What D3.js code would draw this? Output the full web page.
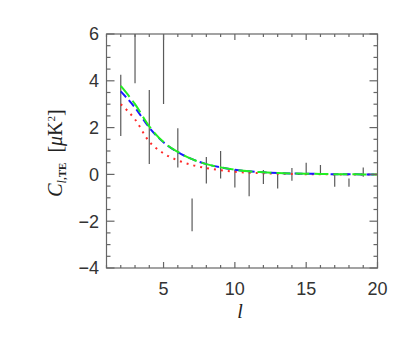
<!DOCTYPE html>
<html>
<head>
<meta charset="utf-8">
<script src="https://cdn.jsdelivr.net/npm/d3@7"></script>
<style>
  body { margin: 0; background: #fff; }
</style>
</head>
<body>
<div class="chart"></div>
<script>
// multipoles and measured TE band powers (error bar ends)
var ells = [2, 3, 4, 5, 6, 7, 8, 9, 10, 11, 12, 13, 14, 15, 16, 17, 18, 19];
var errTop = [4.26, 7.5, 3.61, 7.5, 1.97, -1.03, 0.74, 1.0, 0.21, 0.11, 0.19, 0.04, 0.27, 0.5, 0.4, 0.0, -0.17, 0.3];
var errBot = [1.64, 3.9, 0.44, 3.01, 0.29, -2.43, -0.39, -0.17, -0.56, -0.93, -0.41, -0.6, -0.27, -0.03, -0.03, -0.53, -0.53, -0.1];

// model curves
var modelL = [2, 3, 4, 5, 6, 7, 8, 9, 10, 11, 12, 13, 14, 15, 16, 17, 18, 19, 20];
var greenModel = [3.78, 3.0, 2.05, 1.38, 0.96, 0.65, 0.44, 0.3, 0.2, 0.13, 0.09, 0.06, 0.04, 0.03, 0.02, 0.01, 0.01, 0.0, 0.0];
var blueModel = [3.55, 2.85, 2.0, 1.37, 0.95, 0.65, 0.44, 0.3, 0.2, 0.13, 0.09, 0.06, 0.04, 0.03, 0.02, 0.01, 0.01, 0.0, 0.0];
var redModel = [3.0, 2.35, 1.4, 0.9, 0.6, 0.4, 0.27, 0.18, 0.11, 0.07, 0.05, 0.03, 0.02, 0.01, 0.01, 0.0, 0.0, 0.0, 0.0];

var xTicks = [5, 10, 15, 20];
var yTicks = [-4, -2, 0, 2, 4, 6];

var W = 409, H = 337;
var pLeft = 106.5, pRight = 377.5, pTop = 34, pBottom = 268;
var axisColor = '#666';

var svg = d3.select('.chart')
  .append('svg')
    .attr('width', W)
    .attr('height', H);

var xScale = d3.scaleLinear().domain([1, 20]).range([pLeft, pRight]);
var yScale = d3.scaleLinear().domain([-4, 6]).range([pBottom, pTop]);

var defs = svg.append('defs');
defs.append('clipPath').attr('id', 'clip')
  .append('rect')
    .attr('x', pLeft).attr('y', pTop)
    .attr('width', pRight - pLeft).attr('height', pBottom - pTop);

var plot = svg.append('g').attr('clip-path', 'url(#clip)');

// error bars
plot.selectAll('.err')
  .data(ells)
  .enter()
  .append('line')
    .attr('class', 'err')
    .attr('x1', d => xScale(d))
    .attr('x2', d => xScale(d))
    .attr('y1', (d, i) => yScale(errTop[i]))
    .attr('y2', (d, i) => yScale(errBot[i]))
    .style('stroke', '#5a5a5a')
    .style('stroke-width', 1.2);

function drawModel(vals, color, dash, w) {
  var line = d3.line()
    .x((d, i) => xScale(modelL[i]))
    .y(d => yScale(d))
    .curve(d3.curveMonotoneX);
  plot.append('path')
    .attr('d', line(vals))
    .style('stroke', color)
    .style('stroke-width', w)
    .style('stroke-dasharray', dash)
    .style('fill', 'none');
}
drawModel(redModel, '#ff2a2a', '2,5', 2);
drawModel(blueModel, '#1a1aff', '8,4', 2);
drawModel(greenModel, '#22ee22', '14,5', 2);

// axes box with ticks on all sides
var ax = svg.append('g').style('stroke', axisColor).style('stroke-width', 1.2);
ax.append('rect')
  .attr('x', pLeft).attr('y', pTop)
  .attr('width', pRight - pLeft).attr('height', pBottom - pTop)
  .style('fill', 'none');

var xMinor = d3.range(1, 21);
ax.selectAll('.xt')
  .data(xMinor)
  .enter()
  .append('g')
  .each(function(d) {
    var len = d % 5 === 0 ? 6 : 3;
    var g = d3.select(this);
    g.append('line').attr('x1', xScale(d)).attr('x2', xScale(d))
      .attr('y1', pBottom).attr('y2', pBottom - len);
    g.append('line').attr('x1', xScale(d)).attr('x2', xScale(d))
      .attr('y1', pTop).attr('y2', pTop + len);
  });

var yMinor = d3.range(-4, 6.01, 0.5);
ax.selectAll('.yt')
  .data(yMinor)
  .enter()
  .append('g')
  .each(function(d) {
    var len = Math.abs(d % 2) < 1e-6 ? 8 : 4;
    var g = d3.select(this);
    g.append('line').attr('x1', pLeft).attr('x2', pLeft + len)
      .attr('y1', yScale(d)).attr('y2', yScale(d));
    g.append('line').attr('x1', pRight).attr('x2', pRight - len)
      .attr('y1', yScale(d)).attr('y2', yScale(d));
  });

// tick labels
svg.selectAll('.xl')
  .data(xTicks)
  .enter()
  .append('text')
    .attr('x', d => xScale(d))
    .attr('y', 295)
    .attr('text-anchor', 'middle')
    .style('font-family', 'Liberation Sans, Arial, sans-serif')
    .style('font-size', '18px')
    .style('fill', '#333')
    .text(d => d);

svg.selectAll('.yl')
  .data(yTicks)
  .enter()
  .append('text')
    .attr('x', 99)
    .attr('y', d => yScale(d))
    .attr('dy', '0.36em')
    .attr('text-anchor', 'end')
    .style('font-family', 'Liberation Sans, Arial, sans-serif')
    .style('font-size', '18px')
    .style('fill', '#333')
    .text(d => d < 0 ? '\u2212' + Math.abs(d) : d);

// axis titles
svg.append('text')
  .attr('x', 240)
  .attr('y', 318)
  .attr('text-anchor', 'middle')
  .style('font-family', 'Liberation Serif, Times New Roman, serif')
  .style('font-style', 'italic')
  .style('font-size', '20px')
  .style('fill', '#222')
  .text('l');

var yt = svg.append('text')
  .attr('transform', 'translate(62,153) rotate(-90)')
  .attr('text-anchor', 'middle')
  .style('font-family', 'Liberation Serif, Times New Roman, serif')
  .style('font-size', '20px')
  .style('fill', '#222');
yt.append('tspan').style('font-style', 'italic').text('C');
yt.append('tspan').attr('dy', 4).style('font-size', '12px').style('font-style', 'italic').text('l');
yt.append('tspan').style('font-size', '11px').style('font-weight', 'bold').text(',TE');
yt.append('tspan').attr('dy', -4).text('\u2002[');
yt.append('tspan').style('font-style', 'italic').text('\u03bc');
yt.append('tspan').text('K');
yt.append('tspan').attr('dy', -7).style('font-size', '11px').text('2');
yt.append('tspan').attr('dy', 7).text(']');
</script>
</body>
</html>
